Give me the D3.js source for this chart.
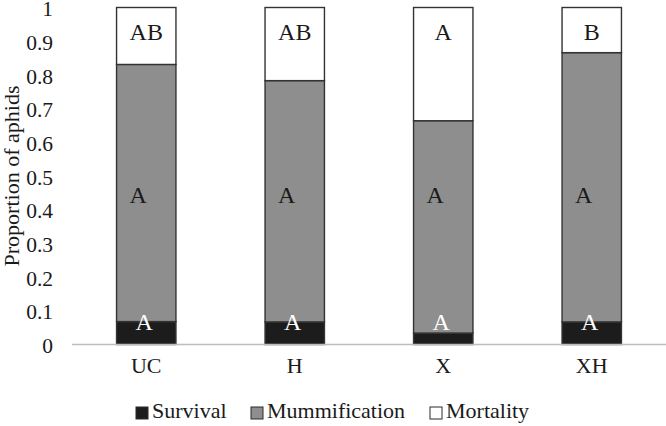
<!DOCTYPE html>
<html><head><meta charset="utf-8">
<script src="https://cdn.jsdelivr.net/npm/d3@7"></script>
</head>
<body style="margin:0;background:#fff"><svg id="c" width="666" height="426" font-family="Liberation Serif"></svg>
<script>
const categories = ["UC", "H", "X", "XH"];
const survival = [0.068, 0.067, 0.034, 0.067];
const mummification = [0.763, 0.716, 0.630, 0.799];
const mortality = [0.169, 0.217, 0.336, 0.134];
const seriesNames = ["Survival", "Mummification", "Mortality"];
const yTicks = [0, 0.1, 0.2, 0.3, 0.4, 0.5, 0.6, 0.7, 0.8, 0.9, 1];
const lettersSurvival = ["A", "A", "A", "A"];
const lettersMumm = ["A", "A", "A", "A"];
const lettersMort = ["AB", "AB", "A", "B"];
const colors = ["#1c1c1c", "#8e8e8e", "#ffffff"];
const FONT = "Liberation Serif";

const svg = d3.select("#c");
const x = d3.scaleBand().domain(categories).range([72, 666]).paddingInner(0.6).paddingOuter(0.3);
const y = d3.scaleLinear().domain([0, 1]).range([344.5, 7.5]);

const rows = categories.map((c, i) => ({cat: c, Survival: survival[i], Mummification: mummification[i], Mortality: mortality[i]}));
const stack = d3.stack().keys(seriesNames)(rows);

// y tick labels
const yAxis = d3.axisLeft(y).tickValues(yTicks).tickSize(0).tickPadding(0)
  .tickFormat(d => d === 0 ? "0" : d === 1 ? "1" : d3.format(".1f")(d));
const ya = svg.append("g").attr("transform", "translate(53,0)").call(yAxis).attr("font-family", FONT);
ya.select(".domain").remove();
ya.selectAll("text").attr("font-size", 21.5).attr("font-family", FONT).attr("fill", "#1a1a1a").attr("dy", "0.38em");

// bars
stack.forEach((s, si) => {
  svg.append("g").selectAll("rect").data(s).join("rect")
    .attr("x", d => x(d.data.cat))
    .attr("y", d => y(d[1]))
    .attr("width", x.bandwidth())
    .attr("height", d => y(d[0]) - y(d[1]))
    .attr("fill", colors[si])
    .attr("stroke", "#333333")
    .attr("stroke-width", 1.4);
});

// x axis line
const xAxis = d3.axisBottom(x).tickSize(0).tickPadding(0);
const xa = svg.append("g").attr("transform", `translate(0,${y(0)})`).call(xAxis).attr("font-family", FONT);
xa.select(".domain").attr("stroke", "#bdbdbd").attr("stroke-width", 1.5).attr("d", "M72,0H666");
xa.selectAll("text").attr("font-size", 22).attr("font-family", FONT).attr("fill", "#1a1a1a").attr("dy", "1.3em");

// letters
const lab = svg.append("g").attr("font-size", 24).attr("font-family", FONT).attr("text-anchor", "middle");
categories.forEach((c, i) => {
  const cx = x(c) + x.bandwidth() / 2;
  lab.append("text").attr("x", cx - 2).attr("y", 330).attr("fill", "#ffffff").text(lettersSurvival[i]);
  lab.append("text").attr("x", cx - 8).attr("y", 203).attr("fill", "#1a1a1a").text(lettersMumm[i]);
  lab.append("text").attr("x", cx).attr("y", 40).attr("fill", "#1a1a1a").text(lettersMort[i]);
});

// y label
svg.append("text").attr("transform", "translate(19,176) rotate(-90)").attr("font-family", FONT)
  .attr("text-anchor", "middle").attr("font-size", 22).attr("fill", "#1a1a1a").text("Proportion of aphids");

// legend
const legX = [136, 251, 430];
const leg = svg.append("g").attr("font-family", FONT);
seriesNames.forEach((n, i) => {
  leg.append("rect").attr("x", legX[i]).attr("y", 407).attr("width", 12).attr("height", 12)
    .attr("fill", colors[i]).attr("stroke", "#2a2a2a").attr("stroke-width", 1);
  leg.append("text").attr("x", legX[i] + 16).attr("y", 418).attr("font-size", 22).attr("fill", "#1a1a1a").text(n);
});
</script></body></html>
